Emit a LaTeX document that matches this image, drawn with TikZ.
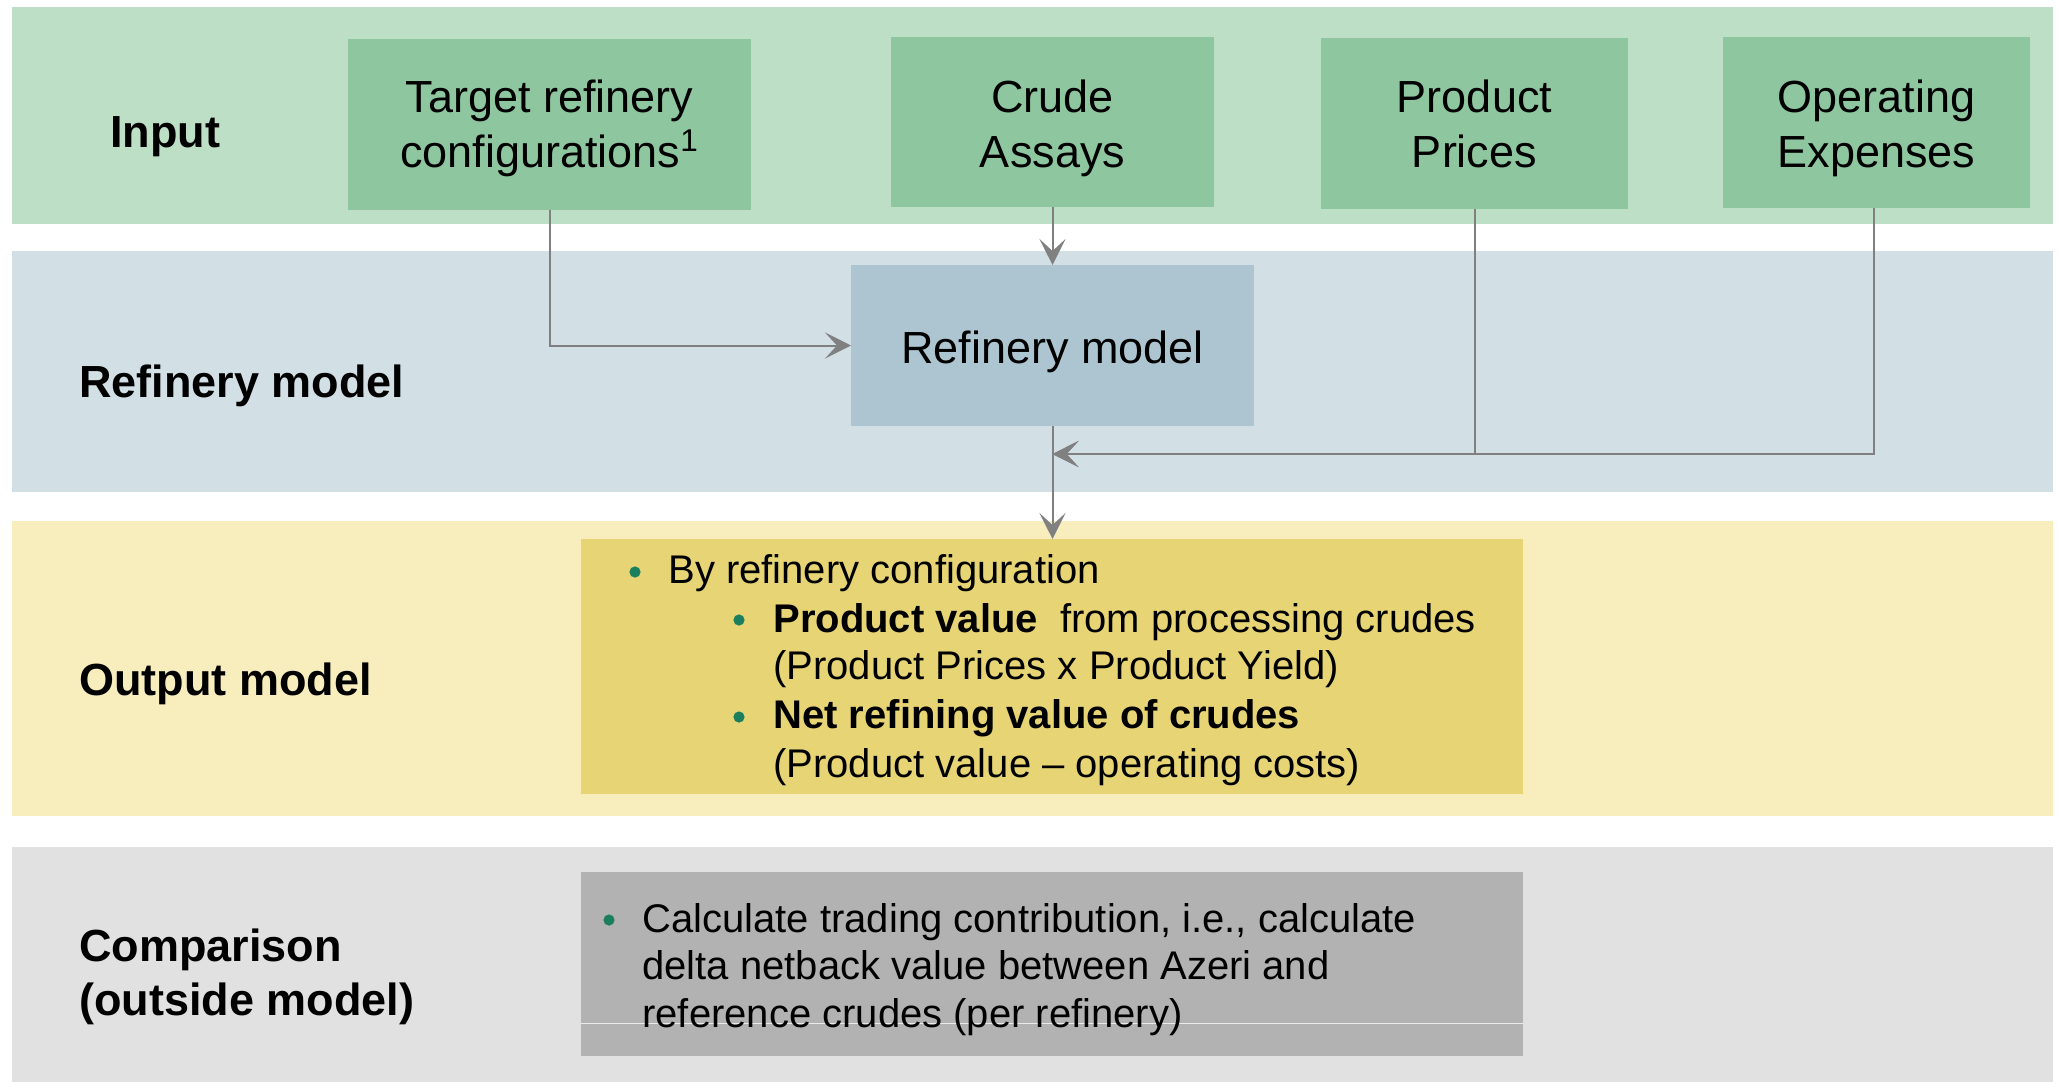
\documentclass[tikz,border=0pt]{standalone}
\usepackage{fontspec}
\setmainfont{Liberation Sans}
\usetikzlibrary{arrows.meta,fit}
\definecolor{inband}{HTML}{BDDFC5}
\definecolor{inbox}{HTML}{8EC6A0}
\definecolor{rfband}{HTML}{D2DFE5}
\definecolor{rfbox}{HTML}{ADC5D0}
\definecolor{outband}{HTML}{F7EDBD}
\definecolor{outbox}{HTML}{E6D475}
\definecolor{cmpband}{HTML}{E1E1E1}
\definecolor{cmpbox}{HTML}{B2B2B2}
\definecolor{bulletgreen}{HTML}{1B7F5E}
\definecolor{arrowgray}{HTML}{808080}
\begin{document}
\begin{tikzpicture}[x=0.5pt,y=-0.5pt,
  box/.style={inner sep=0pt, outer sep=0pt, draw=none},
  big/.style={font=\fontsize{22.5}{27}\selectfont, inner sep=0pt, anchor=base},
  lbl/.style={font=\fontsize{22.5}{27}\selectfont\bfseries, inner sep=0pt, anchor=base west},
  body/.style={font=\fontsize{20}{24}\selectfont, inner sep=0pt, anchor=base west},
  dot/.style={circle, fill=bulletgreen, inner sep=0pt, minimum size=5.6pt},
  arr/.style={draw=arrowgray, line width=1pt, -{Stealth[length=13pt,width=13pt,inset=6pt]}}
]
\useasboundingbox (0,0) rectangle (2058,1082);
\fill[white] (0,0) rectangle (2058,1082);
% bands
\fill[inband] (12,7) rectangle (2053,224);
\fill[rfband] (12,251) rectangle (2053,492);
\fill[outband] (12,521) rectangle (2053,816);
\fill[cmpband] (12,847) rectangle (2053,1082);
% boxes
\node[box, fill=inbox, fit={(348,39) (751,210)}] (tgt) {};
\node[box, fill=inbox, fit={(891,37) (1214,207)}] (crude) {};
\node[box, fill=inbox, fit={(1321,38) (1628,209)}] (pp) {};
\node[box, fill=inbox, fit={(1723,37) (2030,208)}] (oe) {};
\node[box, fill=rfbox, fit={(851,265) (1254,426)}] (rm) {};
\node[box, fill=outbox, fit={(581,539) (1523,794)}] (out) {};
\node[box, fill=cmpbox, fit={(581,872) (1523,1056)}] (cmp) {};
\draw[white!92!black, line width=0.5pt] (cmp.west |- 0,1023) -- (cmp.east |- 0,1023);
% left labels
\node[lbl] (linput) at (110,147) {Input};
\node[lbl] (lrefin) at (79,397) {Refinery model};
\node[lbl] (loutput) at (79,695) {Output model};
\node[lbl] (lcmp1) at (79,961) {Comparison};
\node[lbl] (lcmp2) at (79,1015) {(outside model)};
% input texts
\node[big] (t1a) at (549.5,112) {Target refinery};
\node[big] (t1b) at (549.5,167) {configurations\textsuperscript{1}};
\node[big] (t2a) at (1052.5,112) {Crude};
\node[big] (t2b) at (1052.5,167) {Assays};
\node[big] (t3a) at (1474.5,112) {Product};
\node[big] (t3b) at (1474.5,167) {Prices};
\node[big] (t4a) at (1876.5,112) {Operating};
\node[big] (t4b) at (1876.5,167) {Expenses};
\node[big] (rmt) at (1052.5,363) {Refinery model};
% output texts
\node[dot] (ob1) at (635,572) {};
\node[body] (o1) at (668,583) {By refinery configuration};
\node[dot] (ob2) at (739,620) {};
\node[body] (o2) at (773,632) {\textbf{Product value}~ from processing crudes};
\node[body] (o3) at (773,679) {(Product Prices x Product Yield)};
\node[dot] (ob3) at (739,717) {};
\node[body] (o4) at (773,728) {\textbf{Net refining value of crudes}};
\node[body] (o5) at (773,777) {(Product value \textendash{} operating costs)};
% comparison texts
\node[dot] (cb1) at (609,920) {};
\node[body] (c1) at (642,932) {Calculate trading contribution, i.e., calculate};
\node[body] (c2) at (642,979) {delta netback value between Azeri and};
\node[body] (c3) at (642,1027) {reference crudes (per refinery)};
% connectors
\coordinate (join) at (1052.5,454);
\draw[arr] (tgt.south) |- (rm.west);
\draw[arr] (crude.south) -- (rm.north);
\draw[arr] (rm.south) -- (rm.south |- out.north);
\draw[arr] (oe.south -| 1874,0) |- (join);
\draw[arr] (pp.south) |- (join);
\end{tikzpicture}
\end{document}
